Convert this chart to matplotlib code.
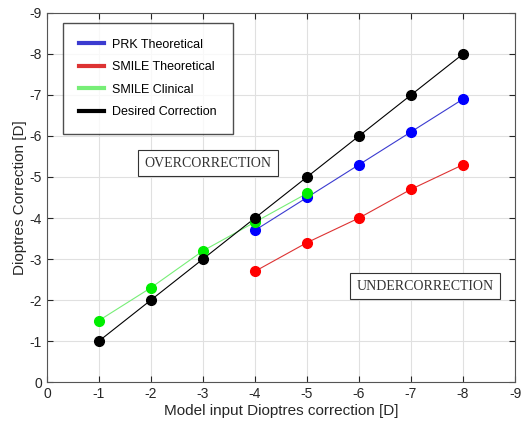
import matplotlib.pyplot as plt

plt.rcParams['font.family'] = ['Liberation Sans', 'DejaVu Sans']
plt.rcParams['axes.unicode_minus'] = False

# data
x_desired = [-1, -2, -3, -4, -5, -6, -7, -8]
y_desired = [-1, -2, -3, -4, -5, -6, -7, -8]
x_prk = [-4, -5, -6, -7, -8]
y_prk = [-3.7, -4.5, -5.3, -6.1, -6.9]
x_smile = [-4, -5, -6, -7, -8]
y_smile = [-2.7, -3.4, -4.0, -4.7, -5.3]
x_clin = [-1, -2, -3, -4, -5]
y_clin = [-1.5, -2.3, -3.2, -3.9, -4.6]
ticks = [0, -1, -2, -3, -4, -5, -6, -7, -8, -9]

fig = plt.figure(figsize=(5.22, 4.30), dpi=100)
ax = fig.add_axes([0.090, 0.1116, 0.8966, 0.8582])

series = [
    (x_prk, y_prk, '#3b3bd0', 'blue', 'PRK Theoretical'),
    (x_smile, y_smile, '#dd3333', 'red', 'SMILE Theoretical'),
    (x_clin, y_clin, '#77ee77', '#00ee00', 'SMILE Clinical'),
    (x_desired, y_desired, 'black', 'black', 'Desired Correction'),
]
handles = []
for xs, ys, lc, mc, lab in series:
    ax.plot(xs, ys, color=lc, lw=0.8, zorder=3)
    ax.plot(xs, ys, 'o', color=mc, ms=7, zorder=4)
    h, = ax.plot([], [], color=lc, lw=3, label=lab)
    handles.append(h)

ax.set_xlim(0, -9)
ax.set_ylim(0, -9)
ax.set_xticks(ticks)
ax.set_yticks(ticks)
ax.grid(True, color='#e0e0e0', lw=0.8)
ax.set_axisbelow(True)
ax.tick_params(direction='in', top=True, right=True, labelsize=10,
               colors='#262626', length=4)
for s in ax.spines.values():
    s.set_color('#555555')
ax.set_xlabel('Model input Dioptres correction [D]', fontsize=11,
              color='#262626', labelpad=2)
ax.set_ylabel('Dioptres Correction [D]', fontsize=11, color='#262626',
              labelpad=2)

leg = ax.legend(handles=handles, loc='upper left', bbox_to_anchor=(0.034, 0.973),
                borderaxespad=0, fontsize=9, frameon=True, fancybox=False,
                edgecolor='#222222', handlelength=2.0, handletextpad=0.7,
                borderpad=1.25, labelspacing=0.85)
leg.get_frame().set_linewidth(1.0)

box = dict(boxstyle='square,pad=0.45', fc='white', ec='#333333', lw=0.8)
ax.text(-3.1, -5.34, 'OVERCORRECTION', family='Liberation Serif', fontsize=10,
        ha='center', va='center', color='#333333', bbox=box)
ax.text(-7.27, -2.34, 'UNDERCORRECTION', family='Liberation Serif', fontsize=10,
        ha='center', va='center', color='#333333', bbox=box)

fig.savefig('out.png', dpi=100)
